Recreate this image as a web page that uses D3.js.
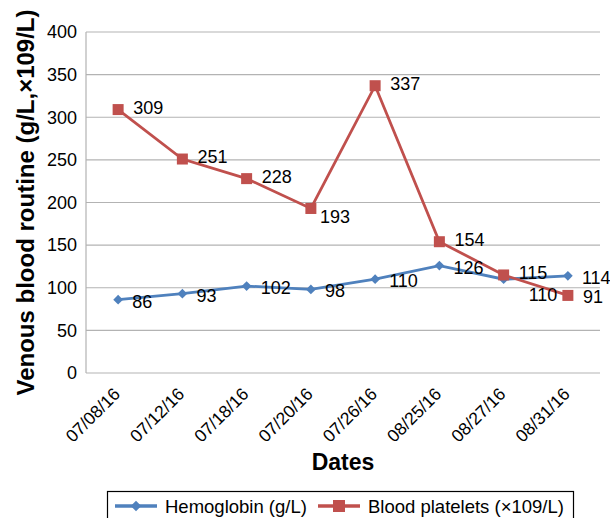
<!DOCTYPE html>
<html>
<head>
<meta charset="utf-8">
<script src="https://cdn.jsdelivr.net/npm/d3@7"></script>
<style>
  body { margin: 0; background: #fff; }
  text { font-family: "Liberation Sans", Arial, sans-serif; fill: #000; }
</style>
</head>
<body>
<svg id="chart" width="610" height="518"></svg>
<script>
// Data
const dates = ['07/08/16', '07/12/16', '07/18/16', '07/20/16', '07/26/16', '08/25/16', '08/27/16', '08/31/16'];
const hemoglobin = [86, 93, 102, 98, 110, 126, 110, 114];
const platelets = [309, 251, 228, 193, 337, 154, 115, 91];
const yTicks = [0, 50, 100, 150, 200, 250, 300, 350, 400];
const seriesNames = ['Hemoglobin (g/L)', 'Blood platelets (×109/L)'];

const blue = '#4f81bd';
const red = '#c0504d';
const margin = { top: 32, right: 10, bottom: 145, left: 86 };
const width = 600 - margin.left;
const height = 373 - margin.top;

const svg = d3.select('#chart');
const g = svg.append('g')
  .attr('transform', `translate(${margin.left},${margin.top})`);

const x = d3.scaleBand().domain(dates).range([0, width]);
const y = d3.scaleLinear().domain([0, 400]).range([height, 0]);

// Gridlines
g.selectAll('.grid')
  .data(yTicks)
  .join('line')
  .attr('x1', 0)
  .attr('x2', width)
  .attr('y1', d => y(d))
  .attr('y2', d => y(d))
  .attr('stroke', '#b3b3b3')
  .attr('stroke-width', 1.2);

// Left axis line
g.append('line')
  .attr('x1', 0).attr('x2', 0)
  .attr('y1', 0).attr('y2', height)
  .attr('stroke', '#b3b3b3')
  .attr('stroke-width', 1.2);

// Y axis labels
const yAxis = g.append('g')
  .call(d3.axisLeft(y).tickValues(yTicks).tickSize(0).tickPadding(9));
yAxis.select('.domain').remove();
yAxis.selectAll('text')
  .style('font-size', '18px')
  .style('font-family', '"Liberation Sans", Arial, sans-serif');

// X axis labels
const xAxis = g.append('g')
  .attr('transform', `translate(0,${height})`)
  .call(d3.axisBottom(x).tickSize(0));
xAxis.select('.domain').remove();
xAxis.selectAll('text')
  .style('font-size', '17.5px')
  .style('font-family', '"Liberation Sans", Arial, sans-serif')
  .attr('text-anchor', 'end')
  .attr('dy', '0')
  .attr('transform', 'translate(1,20) rotate(-45)');

// Axis titles
svg.append('text')
  .attr('x', 343)
  .attr('y', 470)
  .attr('text-anchor', 'middle')
  .style('font-size', '23px')
  .style('font-weight', 'bold')
  .text('Dates');

svg.append('text')
  .attr('transform', `translate(34,${margin.top + height / 2}) rotate(-90)`)
  .attr('text-anchor', 'middle')
  .style('font-size', '24px')
  .style('font-weight', 'bold')
  .text('Venous blood routine (g/L,×109/L)');

const cx = (d, i) => x(dates[i]) + x.bandwidth() / 2;
const line = d3.line().x(cx).y(d => y(d));

// Hemoglobin series
g.append('path')
  .datum(hemoglobin)
  .attr('d', line)
  .attr('fill', 'none')
  .attr('stroke', blue)
  .attr('stroke-width', 2.8);
g.selectAll('.hb')
  .data(hemoglobin)
  .join('path')
  .attr('transform', (d, i) => `translate(${cx(d, i)},${y(d)})`)
  .attr('d', d3.symbol(d3.symbolDiamond2, 60))
  .attr('fill', blue);

// Platelet series
g.append('path')
  .datum(platelets)
  .attr('d', line)
  .attr('fill', 'none')
  .attr('stroke', red)
  .attr('stroke-width', 2.8);
g.selectAll('.pl')
  .data(platelets)
  .join('rect')
  .attr('x', (d, i) => cx(d, i) - 5.5)
  .attr('y', d => y(d) - 5.5)
  .attr('width', 11)
  .attr('height', 11)
  .attr('fill', red);

// Data labels
g.selectAll('.hbLabel')
  .data(hemoglobin)
  .join('text')
  .attr('x', (d, i) => cx(d, i) + (i === 6 ? 25 : 14))
  .attr('y', (d, i) => y(d) + (i === 6 ? 22 : 8))
  .style('font-size', '18px')
  .text(d => d);

g.selectAll('.plLabel')
  .data(platelets)
  .join('text')
  .attr('x', (d, i) => cx(d, i) + (i === 3 ? 9 : 15))
  .attr('y', (d, i) => y(d) + (i === 3 ? 15 : i === 7 ? 8 : 4))
  .style('font-size', '18px')
  .text(d => d);

// Legend
const legend = svg.append('g');
legend.append('rect')
  .attr('x', 107.5)
  .attr('y', 491.5)
  .attr('width', 466)
  .attr('height', 34)
  .attr('fill', '#fff')
  .attr('stroke', '#000')
  .attr('stroke-width', 1.2);

const legendItems = [
  { name: seriesNames[0], color: blue, x0: 115, marker: 'diamond' },
  { name: seriesNames[1], color: red, x0: 318, marker: 'square' }
];
legendItems.forEach(item => {
  const ly = 506;
  legend.append('line')
    .attr('x1', item.x0).attr('x2', item.x0 + 42)
    .attr('y1', ly).attr('y2', ly)
    .attr('stroke', item.color)
    .attr('stroke-width', 3.5);
  if (item.marker === 'diamond') {
    legend.append('path')
      .attr('transform', `translate(${item.x0 + 21},${ly})`)
      .attr('d', d3.symbol(d3.symbolDiamond2, 70))
      .attr('fill', item.color);
  } else {
    legend.append('rect')
      .attr('x', item.x0 + 15).attr('y', ly - 6)
      .attr('width', 12).attr('height', 12)
      .attr('fill', item.color);
  }
  legend.append('text')
    .attr('x', item.x0 + 50)
    .attr('y', ly + 6.5)
    .style('font-size', '18.5px')
    .text(item.name);
});
</script>
</body>
</html>
